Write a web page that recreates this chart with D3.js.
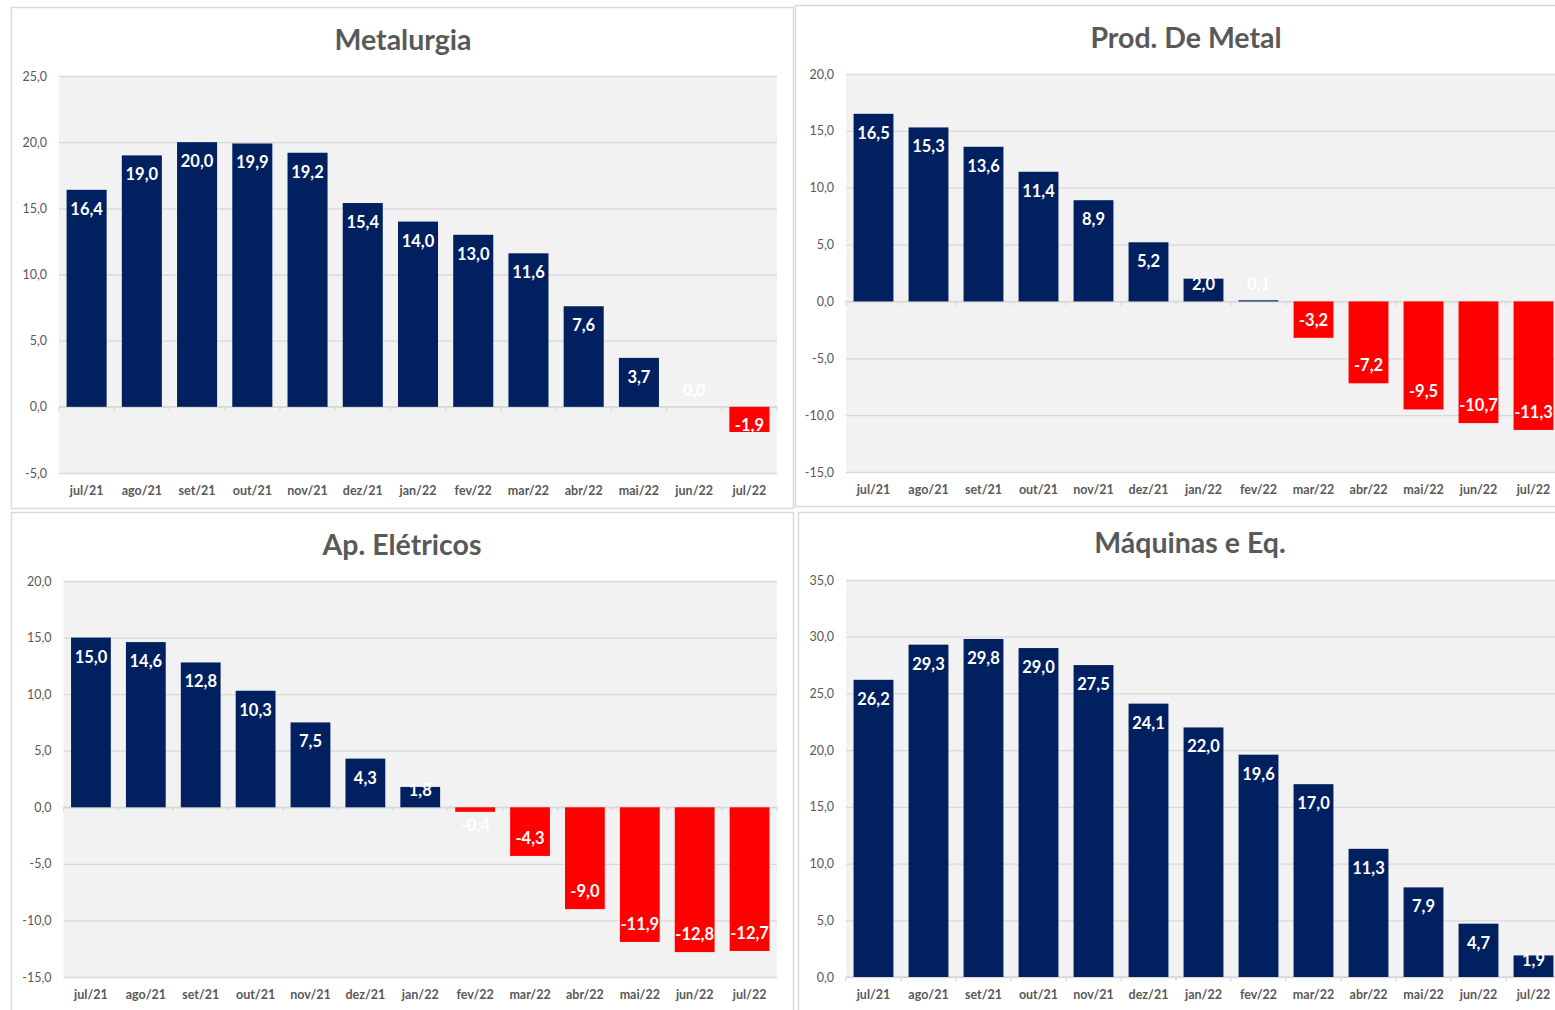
<!DOCTYPE html>
<html>
<head>
<meta charset="utf-8">
<script src="https://cdn.jsdelivr.net/npm/d3@7"></script>
<style>
  html, body { margin: 0; padding: 0; background: #ffffff; }
  svg { display: block; }
</style>
</head>
<body>
<svg id="chart" width="1555" height="1010"></svg>
<script>
// Months shared by all four panels
const months = ["jul/21","ago/21","set/21","out/21","nov/21","dez/21","jan/22","fev/22","mar/22","abr/22","mai/22","jun/22","jul/22"];

// Variation (%) per sector
const metalurgia   = [16.4, 19.0, 20.0, 19.9, 19.2, 15.4, 14.0, 13.0, 11.6, 7.6, 3.7, 0.0, -1.9];
const prodMetal    = [16.5, 15.3, 13.6, 11.4, 8.9, 5.2, 2.0, 0.1, -3.2, -7.2, -9.5, -10.7, -11.3];
const apEletricos  = [15.0, 14.6, 12.8, 10.3, 7.5, 4.3, 1.8, -0.4, -4.3, -9.0, -11.9, -12.8, -12.7];
const maquinas     = [26.2, 29.3, 29.8, 29.0, 27.5, 24.1, 22.0, 19.6, 17.0, 11.3, 7.9, 4.7, 1.9];

// Panel titles and y-axis ticks
const titles = ["Metalurgia", "Prod. De Metal", "Ap. Elétricos", "Máquinas e Eq."];
const ticksMetalurgia  = [-5, 0, 5, 10, 15, 20, 25];
const ticksProdMetal   = [-15, -10, -5, 0, 5, 10, 15, 20];
const ticksApEletricos = [-15, -10, -5, 0, 5, 10, 15, 20];
const ticksMaquinas    = [0, 5, 10, 15, 20, 25, 30, 35];

const ptBR = d3.formatLocale({ decimal: ",", thousands: ".", grouping: [3], currency: ["R$", ""], minus: "-" });
const fmt = ptBR.format(".1f");

const FONT = "Lato, 'Open Sans', sans-serif";
const TEXT = "#595959";
const NAVY = "#002060";
const RED = "#FF0000";
const GRID = "#D9D9D9";

const panels = [
  { title: titles[0], values: metalurgia,  ticks: ticksMetalurgia,
    box: { x: 11.5, y: 7.5, w: 782, h: 501 },
    plot: { x0: 59, x1: 777, y0: 76, y1: 473 }, titleX: 403, titleY: 50 },
  { title: titles[1], values: prodMetal,   ticks: ticksProdMetal,
    box: { x: 795.5, y: 5.5, w: 800, h: 501 },
    plot: { x0: 846, x1: 1561, y0: 74, y1: 472 }, titleX: 1186, titleY: 48 },
  { title: titles[2], values: apEletricos, ticks: ticksApEletricos,
    box: { x: 11.5, y: 512.5, w: 782, h: 520 },
    plot: { x0: 63.5, x1: 777, y0: 581, y1: 977 }, titleX: 402, titleY: 555 },
  { title: titles[3], values: maquinas,    ticks: ticksMaquinas,
    box: { x: 798.5, y: 512.5, w: 800, h: 520 },
    plot: { x0: 846, x1: 1561, y0: 580, y1: 977 }, titleX: 1190, titleY: 553 }
];

const svg = d3.select("#chart");

panels.forEach(p => {
  const g = svg.append("g");

  // chart frame
  g.append("rect")
    .attr("x", p.box.x).attr("y", p.box.y)
    .attr("width", p.box.w).attr("height", p.box.h)
    .attr("fill", "#ffffff")
    .attr("stroke", GRID).attr("stroke-width", 1.5);

  // title
  g.append("text")
    .attr("x", p.titleX).attr("y", p.titleY)
    .attr("text-anchor", "middle")
    .attr("font-family", FONT).attr("font-weight", 700)
    .attr("font-size", 28.5).attr("fill", TEXT)
    .text(p.title);

  const x = d3.scaleBand()
    .domain(months)
    .range([p.plot.x0, p.plot.x1])
    .paddingInner(0.275)
    .paddingOuter(0.1375);

  const y = d3.scaleLinear()
    .domain(d3.extent(p.ticks))
    .range([p.plot.y1, p.plot.y0]);

  // plot area background
  g.append("rect")
    .attr("x", p.plot.x0).attr("y", p.plot.y0)
    .attr("width", p.plot.x1 - p.plot.x0)
    .attr("height", p.plot.y1 - p.plot.y0)
    .attr("fill", "#F2F2F2");

  // y axis with gridlines
  const yAxis = g.append("g")
    .attr("transform", `translate(${p.plot.x0},0)`)
    .call(d3.axisLeft(y)
      .tickValues(p.ticks)
      .tickFormat(fmt)
      .tickSize(-(p.plot.x1 - p.plot.x0))
      .tickPadding(12));
  yAxis.select(".domain").remove();
  yAxis.selectAll(".tick line").attr("stroke", GRID).attr("stroke-width", 1.3);
  yAxis.selectAll(".tick text")
    .attr("font-family", FONT).attr("font-size", 12.5)
    .attr("fill", TEXT);

  // zero line with category boundary ticks
  const y0 = y(0);
  g.append("line")
    .attr("x1", p.plot.x0).attr("x2", p.plot.x1)
    .attr("y1", y0).attr("y2", y0)
    .attr("stroke", GRID).attr("stroke-width", 1.5);
  g.selectAll(".bound")
    .data(d3.range(months.length + 1))
    .join("line")
    .attr("x1", i => p.plot.x0 + i * x.step())
    .attr("x2", i => p.plot.x0 + i * x.step())
    .attr("y1", y0).attr("y2", y0 + 4)
    .attr("stroke", GRID).attr("stroke-width", 1.3);

  // bars
  const data = months.map((m, i) => ({ m, v: p.values[i] }));
  g.selectAll(".bar")
    .data(data)
    .join("rect")
    .attr("x", d => x(d.m))
    .attr("width", x.bandwidth())
    .attr("y", d => Math.min(y(d.v), y0))
    .attr("height", d => Math.abs(y(d.v) - y0))
    .attr("fill", d => d.v < 0 ? RED : NAVY);

  // value labels (inside end, pushed off the baseline when the bar is short)
  g.selectAll(".lbl")
    .data(data)
    .join("text")
    .attr("x", d => x(d.m) + x.bandwidth() / 2)
    .attr("y", d => d.v >= 0
      ? Math.min(y(d.v) + 19, y0 - 17)
      : Math.max(y(d.v) - 18, y0 + 18))
    .attr("dy", "0.36em")
    .attr("text-anchor", "middle")
    .attr("font-family", FONT).attr("font-weight", 700)
    .attr("font-size", 16.5).attr("fill", "#ffffff")
    .text(d => fmt(d.v));

  // month labels
  const xAxis = g.append("g")
    .attr("transform", `translate(0,${p.plot.y1})`)
    .call(d3.axisBottom(x).tickSize(0).tickPadding(13));
  xAxis.select(".domain").remove();
  xAxis.selectAll(".tick text")
    .attr("font-family", FONT).attr("font-weight", 700)
    .attr("font-size", 12.5).attr("fill", TEXT);
});
</script>
</body>
</html>
